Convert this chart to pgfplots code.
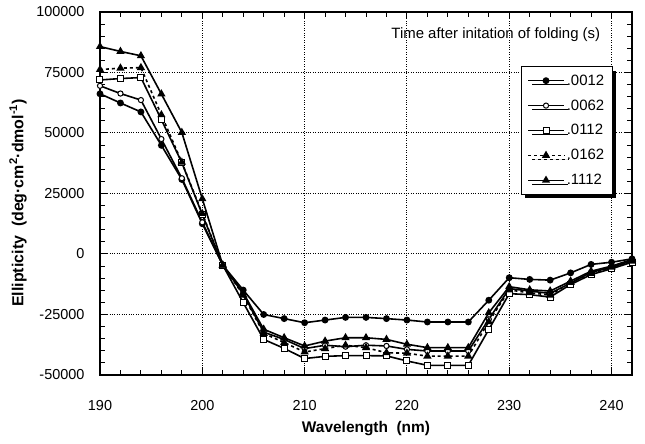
\documentclass[border=0pt]{standalone}
\usepackage{pgfplots}
\pgfplotsset{compat=1.18}
\usepackage{fontspec}
\setmainfont{Liberation Sans}
\usetikzlibrary{shadows}

\begin{document}
\begin{tikzpicture}[x=1bp,y=1bp]
\path[use as bounding box] (-100,-69) rectangle (545,375);
\begin{axis}[at={(0,0)}, anchor=south west, scale only axis,
  width=532bp, height=363bp,
  xmin=190, xmax=242, ymin=-50000, ymax=100000,
  xtick={190,200,...,240}, ytick={-50000,-25000,...,100000},
  minor x tick num=4, minor y tick num=4,
  tick align=inside, major tick length=7bp, minor tick length=5bp,
  grid=major, major grid style={dotted, black, line width=1bp},
  axis line style={line width=1.5bp}, tick style={black, line width=1bp},
  scaled y ticks=false,
  /pgf/number format/fixed,
  /pgf/number format/precision=0,
  /pgf/number format/assume math mode=true,
  /pgf/number format/set thousands separator={},
  ticklabel style={font=\fontsize{14.5}{16}\selectfont},
  xticklabel style={yshift=-22bp},
  yticklabel style={xshift=-12bp},
  xlabel={Wavelength\ \ (nm)},
  xlabel style={at={(axis description cs:0.5,-0.147)}, anchor=center, font=\bfseries\fontsize{15.5}{18}\selectfont},
  ylabel={Ellipticity\ \ (deg·cm\textsuperscript{2}·dmol\textsuperscript{-1})},
  ylabel style={at={(axis description cs:-0.154,0.474)}, anchor=center, font=\bfseries\fontsize{16}{18}\selectfont},
  legend cell align=left,
  legend image code/.code={\draw[mark repeat=2,mark phase=2] plot coordinates {(0bp,0bp) (18bp,0bp) (36bp,0bp)};},
  legend style={at={(0.964,0.851)}, anchor=north east, draw=black, line width=1.3bp, fill=white,
    drop shadow={shadow xshift=4bp, shadow yshift=-4bp, fill=black, opacity=1},
    font=\fontsize{15}{17}\selectfont, row sep=9bp, inner sep=6bp},
  every axis plot/.append style={black, line width=1.6bp},
]
\addplot[mark=*, mark size=2.6bp] coordinates {
(190,66200) (192,62400) (194,58700) (196,44900) (198,30800) (200,12500) (202,-4600)
(204,-14900) (206,-25000) (208,-26700) (210,-28400) (212,-27300) (214,-26200) (216,-26200)
(218,-26700) (220,-27300) (222,-28100) (224,-28100) (226,-28100) (228,-19100) (230,-9800)
(232,-10500) (234,-10800) (236,-7800) (238,-4300) (240,-3400) (242,-2000)};
\addlegendentry{.0012}
\addplot[mark=*, mark size=2.6bp, mark options={fill=white, line width=1bp}] coordinates {
(190,69500) (192,66300) (194,63600) (196,47500) (198,31300) (200,13100) (202,-4600)
(204,-16500) (206,-32300) (208,-35300) (210,-39100) (212,-37700) (214,-38300) (216,-37700)
(218,-38000) (220,-39400) (222,-40100) (224,-40100) (226,-40100) (228,-27000) (230,-14300)
(232,-15300) (234,-16300) (236,-12000) (238,-7600) (240,-5500) (242,-2800)};
\addlegendentry{.0062}
\addplot[mark=square*, mark size=3bp, mark options={fill=white, line width=1bp}] coordinates {
(190,71900) (192,72500) (194,72900) (196,55500) (198,37700) (200,16300) (202,-4600)
(204,-20100) (206,-35300) (208,-39000) (210,-43200) (212,-42300) (214,-42000) (216,-42000)
(218,-42100) (220,-44200) (222,-46000) (224,-46000) (226,-46000) (228,-31200) (230,-16400)
(232,-16800) (234,-17800) (236,-12600) (238,-8500) (240,-6100) (242,-3400)};
\addlegendentry{.0112}
\addplot[dashed, mark=triangle*, mark size=3.2bp, mark options={solid}] coordinates {
(190,76200) (192,76800) (194,77000) (196,57500) (198,37900) (200,16700) (202,-4600)
(204,-17000) (206,-32800) (208,-36600) (210,-40500) (212,-39100) (214,-37700) (216,-38700)
(218,-40800) (220,-41000) (222,-42200) (224,-42200) (226,-42200) (228,-28000) (230,-14900)
(232,-16000) (234,-17000) (236,-11800) (238,-8000) (240,-5500) (242,-3000)};
\addlegendentry{.0162}
\addplot[mark=triangle*, mark size=3.2bp] coordinates {
(190,85700) (192,83700) (194,81900) (196,66100) (198,50200) (200,22800) (202,-4600)
(204,-16000) (206,-31100) (208,-34600) (210,-38000) (212,-36000) (214,-34600) (216,-34600)
(218,-35300) (220,-37300) (222,-38700) (224,-38700) (226,-38700) (228,-24300) (230,-13500)
(232,-14800) (234,-15300) (236,-11200) (238,-7100) (240,-5000) (242,-2300)};
\addlegendentry{.1112}
\node[font=\fontsize{15}{17}\selectfont] at (axis description cs:0.744,0.937) {Time after initation of folding (s)};
\end{axis}
\end{tikzpicture}
\end{document}
